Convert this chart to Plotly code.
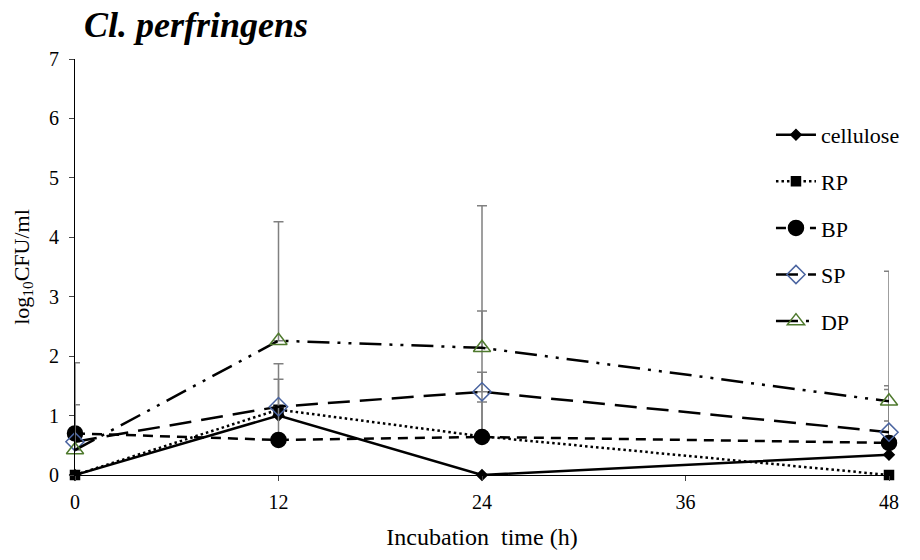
import plotly.graph_objects as go

hours = [0, 12, 24, 48]
series_names = ["cellulose", "RP", "BP", "SP", "DP"]
cellulose = [0.0, 1.0, 0.0, 0.34]
rp = [0.0, 1.1, 0.65, 0.0]
bp = [0.70, 0.59, 0.64, 0.54]
sp = [0.56, 1.15, 1.40, 0.72]
dp = [0.42, 2.26, 2.14, 1.24]

err_cellulose = [0.0, 0.0, 0.0, 1.1]
err_rp = [0.0, 0.0, 0.58, 0.0]
err_bp = [0.48, 1.28, 2.12, 0.96]
err_sp = [0.0, 0.46, 0.33, 0.19]
err_dp = [1.47, 2.0, 2.39, 2.19]

x_ticks = [0, 12, 24, 36, 48]
y_ticks = [0, 1, 2, 3, 4, 5, 6, 7]

FONT = "Liberation Serif, Times New Roman, Times, serif"
ERR_COLOR = "#808080"

styles = [
    dict(dash="solid", symbol="diamond", size=8, color="black", lc="black"),
    dict(dash="2.5px,3px", symbol="square", size=9, color="black", lc="black"),
    dict(dash="10px,7px", symbol="circle", size=15, color="black", lc="black"),
    dict(dash="22px,10px", symbol="diamond-open", size=14, color="#4a64a0", lc="black"),
    dict(dash="22px,8px,3px,8px,3px,8px", symbol="triangle-up-open", size=15, color="#4f7a2e", lc="black"),
]
values = [cellulose, rp, bp, sp, dp]
errs = [err_cellulose, err_rp, err_bp, err_sp, err_dp]

fig = go.Figure()
for name, vals, err, st in zip(series_names, values, errs, styles):
    fig.add_trace(go.Scatter(
        x=hours, y=vals, name=name, mode="lines+markers",
        legendgroup=name,
        line=dict(color=st["lc"], width=2.5, dash=st["dash"]),
        marker=dict(symbol=st["symbol"], size=st["size"], color=st["color"],
                    line=dict(color=st["color"], width=1.5)),
        error_y=dict(type="data", array=err, arrayminus=[0] * len(err),
                     symmetric=False, color=ERR_COLOR, thickness=1.5, width=5),
        cliponaxis=False,
    ))

fig.update_layout(
    width=920, height=560,
    margin=dict(l=75, r=31, t=59, b=85),
    plot_bgcolor="white", paper_bgcolor="white",
    font=dict(family=FONT, size=20, color="black"),
    showlegend=True,
    legend=dict(x=0.855, y=0.868, xanchor="left", yanchor="top",
                font=dict(family=FONT, size=22, color="black"),
                bgcolor="rgba(0,0,0,0)", tracegroupgap=15, itemwidth=40),
    xaxis=dict(range=[0, 48], tickvals=x_ticks, ticks="outside", ticklen=5,
               showline=True, linecolor="black", linewidth=1, showgrid=False,
               zeroline=False, tickfont=dict(family=FONT, size=20), ticklabelstandoff=4,
               title=dict(text="Incubation  time (h)", font=dict(family=FONT, size=24), standoff=16)),
    yaxis=dict(range=[0, 7], tickvals=y_ticks, ticks="outside", ticklen=5,
               showline=True, linecolor="black", linewidth=1, showgrid=False,
               zeroline=False, tickfont=dict(family=FONT, size=20), ticklabelstandoff=6,
               title=dict(text="log<sub>10</sub>CFU/ml", font=dict(family=FONT, size=22), standoff=13)),
    annotations=[dict(text="<b><i>Cl. perfringens</i></b>", xref="paper", yref="paper",
                      x=0.008, y=1.0, xanchor="left", yanchor="bottom", yshift=12,
                      showarrow=False, font=dict(family=FONT, size=36, color="black"))],
)

fig.write_html("out.html")
